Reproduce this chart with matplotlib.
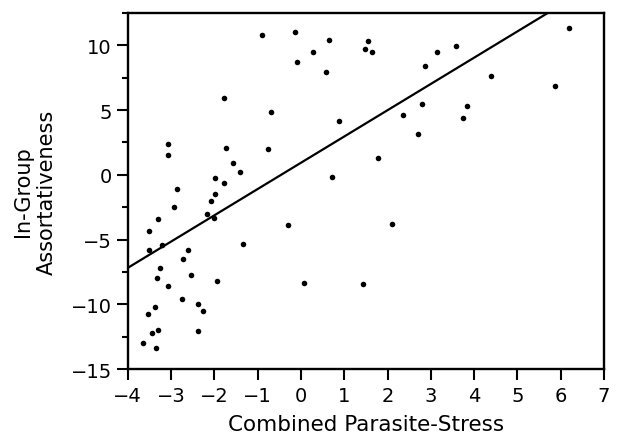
import matplotlib

matplotlib.use("Agg")
import matplotlib.pyplot as plt
import numpy as np
from matplotlib.ticker import MultipleLocator

# values
parasite_stress = [
    -0.91, -1.78, -0.68, -3.08, -3.06, -1.72, -0.75, -1.56, -1.40, -1.99,
    -1.77, -2.87, -1.99, -2.07, -2.92, -2.17, -2.00, -3.29, -3.50, -1.34,
    -3.21, -3.51, -2.61, -2.72, -3.25, -3.33, -2.54, -3.06, -1.94, -2.74,
    -3.38, -2.37, -3.54, -2.25, -3.30, -3.45, -2.38, -3.65, -3.34, -0.14,
    0.65, 0.27, -0.09, 0.58, 1.56, 1.47, 1.64, 3.15, 3.59, 2.87,
    0.88, 2.80, 2.35, 2.71, 1.79, 0.72, -0.30, 2.11, 0.07, 1.43,
    6.19, 4.38, 5.86, 3.84, 3.75,
]
assortativeness = [
    10.80, 5.90, 4.86, 2.35, 1.55, 2.09, 1.98, 0.94, 0.19, -0.25,
    -0.65, -1.09, -1.50, -2.06, -2.52, -2.99, -3.35, -3.40, -4.35, -5.35,
    -5.45, -5.78, -5.81, -6.53, -7.19, -7.94, -7.73, -8.55, -8.22, -9.63,
    -10.20, -9.96, -10.73, -10.50, -11.99, -12.20, -12.04, -12.96, -13.37, 11.06,
    10.42, 9.52, 8.75, 7.91, 10.35, 9.73, 9.45, 9.52, 9.96, 8.37,
    4.17, 5.50, 4.63, 3.17, 1.29, -0.17, -3.86, -3.76, -8.37, -8.42,
    11.32, 7.63, 6.83, 5.32, 4.40,
]
fit_intercept = 0.93
fit_slope = 2.03
x_ticks = list(range(-4, 8))
y_ticks = [-15, -10, -5, 0, 5, 10]

plt.rcParams["font.family"] = ["DejaVu Sans"]

fig = plt.figure(figsize=(6.19, 4.35), dpi=100)
ax = fig.add_axes([0.2063, 0.1494, 0.7695, 0.8184])

ax.scatter(parasite_stress, assortativeness, s=16, color="black", linewidths=0, zorder=3)
xs = np.array([-4.0, 7.0])
ax.plot(xs, fit_intercept + fit_slope * xs, color="black", lw=1.6, zorder=2)

ax.set_xlim(-4, 7)
ax.set_ylim(-15, 12.5)
ax.set_xticks(x_ticks)
ax.set_yticks(y_ticks)
ax.yaxis.set_minor_locator(MultipleLocator(2.5))

for s in ax.spines.values():
    s.set_linewidth(1.7)
ax.tick_params(axis="both", which="major", length=8, width=1.5, labelsize=14)
ax.tick_params(axis="x", which="major", pad=4.5)
ax.tick_params(axis="y", which="minor", length=4.5, width=1.5)

ax.set_xlabel("Combined Parasite-Stress", fontsize=15.5, labelpad=6)
ax.set_ylabel("In-Group\nAssortativeness", fontsize=15, labelpad=10)

fig.savefig("out.png", dpi=100, facecolor="white")
